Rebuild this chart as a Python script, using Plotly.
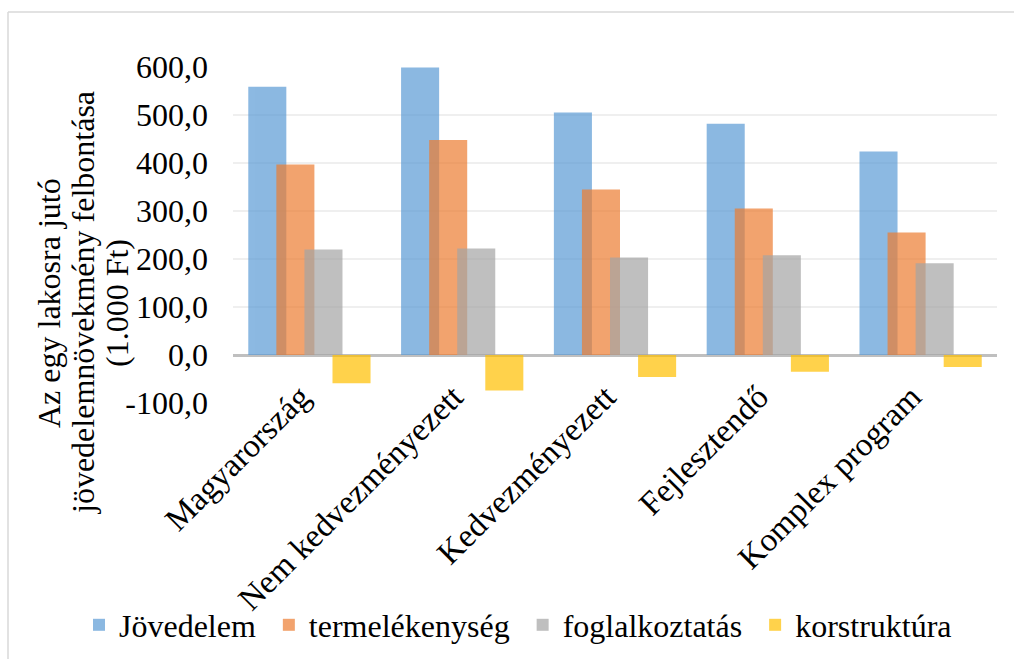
import plotly.graph_objects as go

categories = ["Magyarország", "Nem kedvezményezett", "Kedvezményezett", "Fejlesztendő", "Komplex program"]
jovedelem = [559, 599, 505, 482, 424]
termelekenyseg = [397, 448, 345, 305, 255]
foglalkoztatas = [220, 222, 203, 208, 191]
korstruktura = [-59, -74, -46, -35, -25]

series_names = ["Jövedelem", "termelékenység", "foglalkoztatás", "korstruktúra"]
series_values = [jovedelem, termelekenyseg, foglalkoztatas, korstruktura]
colors = ["#5B9BD5", "#ED7D31", "#A5A5A5", "#FFC000"]

tick_vals = [-100, 0, 100, 200, 300, 400, 500, 600]
tick_text = ["-100,0", "0,0", "100,0", "200,0", "300,0", "400,0", "500,0", "600,0"]

FONT = "Liberation Serif"
W, H = 1014, 659
L, R, T, B = 233, 17, 67, 256
pw, ph = W - L - R, H - T - B

def px_x(x):
    return (x - L) / pw

def px_y(y):
    return (H - B - y) / ph

bar_w = 0.249
step = 0.1837
offsets = [-0.4 + i * step for i in range(4)]
pad = "\u00a0"

fig = go.Figure()
for i, (name, vals, col, off) in enumerate(zip(series_names, series_values, colors, offsets)):
    fig.add_trace(go.Bar(
        x=categories, y=vals, name=name + (pad if i < 3 else ""),
        marker=dict(color=col, line=dict(width=0)),
        opacity=0.7, width=bar_w, offset=off,
    ))

fig.update_layout(
    width=W, height=H,
    margin=dict(l=L, r=R, t=T, b=B, autoexpand=False),
    barmode="overlay",
    plot_bgcolor="white", paper_bgcolor="white",
    font=dict(family=FONT, size=32, color="black"),
    showlegend=True,
    legend=dict(
        orientation="h", xref="paper", yref="paper",
        x=px_x(79), xanchor="left",
        y=px_y(625), yanchor="middle",
        font=dict(family=FONT, size=32, color="black"),
        bgcolor="rgba(0,0,0,0)", borderwidth=0,
    ),
    xaxis=dict(
        tickangle=-45, showgrid=False, showline=False, ticks="",
        automargin=False, tickfont=dict(family=FONT, size=33),
        range=[-0.5, 4.5], ticklabelstandoff=-33, ticklabelshift=-9,
    ),
    yaxis=dict(
        range=[-100, 600], tickvals=tick_vals, ticktext=tick_text,
        showgrid=True, gridcolor="#EFEFEF", gridwidth=1.5,
        zeroline=True, zerolinecolor="#BFBFBF", zerolinewidth=2.5,
        showline=False, ticks="", automargin=False,
        tickfont=dict(family=FONT, size=32), ticklabelstandoff=24,
    ),
)

title_lines = ["Az egy lakosra jutó", "jövedelemnövekmény felbontása", "(1.000 Ft)"]
for xpx, txt in zip([49, 83, 117], title_lines):
    fig.add_annotation(
        text=txt, xref="paper", yref="paper", x=px_x(xpx), y=px_y(303),
        xanchor="center", yanchor="middle", textangle=-90, showarrow=False,
        font=dict(family=FONT, size=32, color="black"),
    )

# chart border (top and left visible)
fig.add_shape(type="line", xref="paper", yref="paper",
              x0=px_x(8), x1=px_x(1014), y0=px_y(12), y1=px_y(12),
              line=dict(color="#D9D9D9", width=1.5))
fig.add_shape(type="line", xref="paper", yref="paper",
              x0=px_x(8), x1=px_x(8), y0=px_y(12), y1=px_y(659),
              line=dict(color="#D9D9D9", width=1.5))

fig.write_html("out.html", config={"displayModeBar": False},
               post_script="document.body.style.margin='0';")
